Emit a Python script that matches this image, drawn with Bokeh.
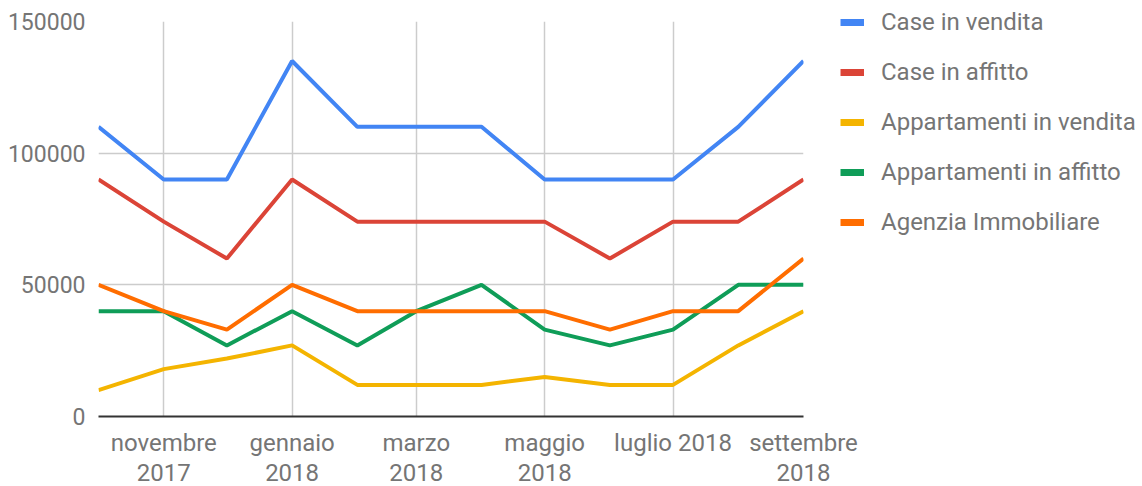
from datetime import date
from bokeh.plotting import figure
from bokeh.models import ColumnDataSource, Legend, LegendItem, FixedTicker, Range1d
from bokeh.embed import file_html
from bokeh.resources import INLINE

# ---- data ----
months = [date(2017, 10, 1), date(2017, 11, 1), date(2017, 12, 1), date(2018, 1, 1),
          date(2018, 2, 1), date(2018, 3, 1), date(2018, 4, 1), date(2018, 5, 1),
          date(2018, 6, 1), date(2018, 7, 1), date(2018, 8, 1), date(2018, 9, 1)]
case_vendita = [110000, 90000, 90000, 135000, 110000, 110000, 110000, 90000, 90000, 90000, 110000, 135000]
case_affitto = [90000, 74000, 60000, 90000, 74000, 74000, 74000, 74000, 60000, 74000, 74000, 90000]
app_vendita = [10000, 18000, 22000, 27000, 12000, 12000, 12000, 15000, 12000, 12000, 27000, 40000]
app_affitto = [40000, 40000, 27000, 40000, 27000, 40000, 50000, 33000, 27000, 33000, 50000, 50000]
agenzia = [50000, 40000, 33000, 50000, 40000, 40000, 40000, 40000, 33000, 40000, 40000, 60000]

series_names = ["Case in vendita", "Case in affitto", "Appartamenti in vendita",
                "Appartamenti in affitto", "Agenzia Immobiliare"]
series_values = [case_vendita, case_affitto, app_vendita, app_affitto, agenzia]
colors = ["#4285F4", "#DB4437", "#F4B400", "#0F9D58", "#FF6D00"]

tick_dates = [date(2017, 11, 1), date(2018, 1, 1), date(2018, 3, 1),
              date(2018, 5, 1), date(2018, 7, 1), date(2018, 9, 1)]
tick_labels = ["novembre\n2017", "gennaio\n2018", "marzo\n2018",
               "maggio\n2018", "luglio 2018", "settembre\n2018"]
y_ticks = [0, 50000, 100000, 150000]

start = months[0]
x_days = [(d - start).days for d in months]
tick_days = [(d - start).days for d in tick_dates]

FONT = "Roboto"
GRAY = "#757575"

p = figure(frame_width=705, frame_height=395, min_border_left=98, min_border_top=21,
           min_border_bottom=66, min_border_right=335,
           output_backend="svg", toolbar_location=None,
           x_range=Range1d(x_days[0], x_days[-1]), y_range=Range1d(0, 150000))
p.outline_line_color = None
p.background_fill_color = "white"

src = ColumnDataSource(dict(x=x_days, **{f"s{i}": v for i, v in enumerate(series_values)}))

nan = float("nan")
items = []
for i, (name, col) in enumerate(zip(series_names, colors)):
    p.line("x", f"s{i}", source=src, line_color=col, line_width=4)
    dummy = p.line(x=[nan], y=[nan], line_color=col, line_width=7)
    items.append(LegendItem(label=name, renderers=[dummy]))

# axes
p.xaxis.ticker = FixedTicker(ticks=tick_days)
p.xaxis.major_label_overrides = {t: l for t, l in zip(tick_days, tick_labels)}
p.xaxis.axis_line_color = "#333333"
p.xaxis.axis_line_width = 2
p.xaxis.major_tick_line_color = None
p.xaxis.minor_tick_line_color = None
p.xaxis.major_tick_out = 0
p.xaxis.major_label_standoff = 12
p.xaxis.major_label_text_font = FONT
p.xaxis.major_label_text_font_size = "24px"
p.xaxis.major_label_text_line_height = 1.08
p.xaxis.major_label_text_color = GRAY

p.yaxis.ticker = FixedTicker(ticks=y_ticks)
p.yaxis.axis_line_color = None
p.yaxis.major_tick_line_color = None
p.yaxis.minor_tick_line_color = None
p.yaxis.major_tick_out = 0
p.yaxis.major_label_standoff = 13
p.yaxis.major_label_text_font = FONT
p.yaxis.major_label_text_font_size = "23px"
p.yaxis.major_label_text_color = GRAY
p.yaxis.formatter.use_scientific = False

p.xgrid.grid_line_color = "#cccccc"
p.xgrid.grid_line_width = 1.5
p.ygrid.grid_line_color = "#cccccc"
p.ygrid.grid_line_width = 1.5

legend = Legend(items=items, location=(37, 180), padding=0, margin=0,
                glyph_width=24, glyph_height=26, label_height=26, spacing=22,
                label_standoff=17, label_text_font=FONT, label_text_font_size="24px",
                label_text_color=GRAY, background_fill_alpha=0, border_line_alpha=0)
p.add_layout(legend, "right")

open("out.html", "w").write(file_html(p, INLINE))
